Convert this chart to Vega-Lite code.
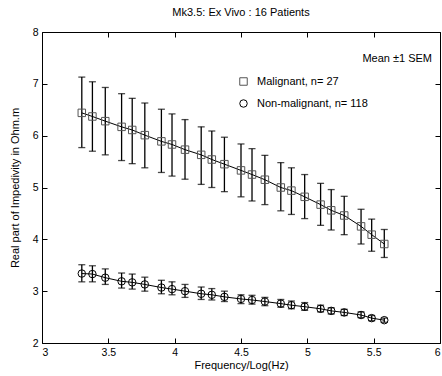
{
  "$schema": "https://vega.github.io/schema/vega-lite/v6.json",
  "width": 398,
  "height": 311,
  "autosize": {"type": "none"},
  "padding": {"left": 42, "top": 32, "right": 2, "bottom": 33},
  "background": "white",
  "title": {"text": "Mk3.5: Ex Vivo : 16 Patients", "font": "Liberation Sans", "fontSize": 11, "fontWeight": "normal", "color": "black", "offset": 9},
  "config": {
    "view": {"stroke": "black", "strokeWidth": 1},
    "axis": {"grid": false, "domain": false, "tickColor": "black", "tickSize": -5, "labelColor": "black", "labelFont": "Liberation Sans", "labelFontSize": 10.5, "titleFont": "Liberation Sans", "titleFontSize": 11, "titleFontWeight": "normal", "titleColor": "black"}
  },
  "data": {"values": [
    {"series": "Malignant, n= 27", "x": 3.30, "y": 6.44, "lo": 5.77, "hi": 7.13},
    {"series": "Malignant, n= 27", "x": 3.38, "y": 6.37, "lo": 5.70, "hi": 7.04},
    {"series": "Malignant, n= 27", "x": 3.477, "y": 6.28, "lo": 5.63, "hi": 6.93},
    {"series": "Malignant, n= 27", "x": 3.60, "y": 6.17, "lo": 5.52, "hi": 6.81},
    {"series": "Malignant, n= 27", "x": 3.68, "y": 6.11, "lo": 5.46, "hi": 6.72},
    {"series": "Malignant, n= 27", "x": 3.775, "y": 6.01, "lo": 5.38, "hi": 6.63},
    {"series": "Malignant, n= 27", "x": 3.90, "y": 5.89, "lo": 5.29, "hi": 6.51},
    {"series": "Malignant, n= 27", "x": 3.98, "y": 5.83, "lo": 5.22, "hi": 6.42},
    {"series": "Malignant, n= 27", "x": 4.078, "y": 5.73, "lo": 5.16, "hi": 6.31},
    {"series": "Malignant, n= 27", "x": 4.20, "y": 5.63, "lo": 5.06, "hi": 6.17},
    {"series": "Malignant, n= 27", "x": 4.28, "y": 5.54, "lo": 5.00, "hi": 6.09},
    {"series": "Malignant, n= 27", "x": 4.375, "y": 5.45, "lo": 4.92, "hi": 5.97},
    {"series": "Malignant, n= 27", "x": 4.50, "y": 5.33, "lo": 4.82, "hi": 5.84},
    {"series": "Malignant, n= 27", "x": 4.583, "y": 5.25, "lo": 4.74, "hi": 5.75},
    {"series": "Malignant, n= 27", "x": 4.68, "y": 5.15, "lo": 4.67, "hi": 5.62},
    {"series": "Malignant, n= 27", "x": 4.80, "y": 5.00, "lo": 4.55, "hi": 5.48},
    {"series": "Malignant, n= 27", "x": 4.88, "y": 4.94, "lo": 4.48, "hi": 5.38},
    {"series": "Malignant, n= 27", "x": 4.98, "y": 4.82, "lo": 4.40, "hi": 5.25},
    {"series": "Malignant, n= 27", "x": 5.10, "y": 4.67, "lo": 4.27, "hi": 5.08},
    {"series": "Malignant, n= 27", "x": 5.18, "y": 4.56, "lo": 4.18, "hi": 4.96},
    {"series": "Malignant, n= 27", "x": 5.278, "y": 4.46, "lo": 4.09, "hi": 4.83},
    {"series": "Malignant, n= 27", "x": 5.405, "y": 4.25, "lo": 3.91, "hi": 4.58},
    {"series": "Malignant, n= 27", "x": 5.485, "y": 4.09, "lo": 3.77, "hi": 4.39},
    {"series": "Malignant, n= 27", "x": 5.58, "y": 3.91, "lo": 3.65, "hi": 4.19},
    {"series": "Non-malignant, n= 118", "x": 3.30, "y": 3.34, "lo": 3.18, "hi": 3.51},
    {"series": "Non-malignant, n= 118", "x": 3.38, "y": 3.33, "lo": 3.18, "hi": 3.49},
    {"series": "Non-malignant, n= 118", "x": 3.477, "y": 3.26, "lo": 3.13, "hi": 3.43},
    {"series": "Non-malignant, n= 118", "x": 3.60, "y": 3.19, "lo": 3.06, "hi": 3.35},
    {"series": "Non-malignant, n= 118", "x": 3.68, "y": 3.17, "lo": 3.04, "hi": 3.33},
    {"series": "Non-malignant, n= 118", "x": 3.775, "y": 3.13, "lo": 3.00, "hi": 3.27},
    {"series": "Non-malignant, n= 118", "x": 3.90, "y": 3.07, "lo": 2.95, "hi": 3.21},
    {"series": "Non-malignant, n= 118", "x": 3.98, "y": 3.04, "lo": 2.93, "hi": 3.18},
    {"series": "Non-malignant, n= 118", "x": 4.078, "y": 3.00, "lo": 2.88, "hi": 3.13},
    {"series": "Non-malignant, n= 118", "x": 4.20, "y": 2.95, "lo": 2.84, "hi": 3.08},
    {"series": "Non-malignant, n= 118", "x": 4.28, "y": 2.93, "lo": 2.83, "hi": 3.05},
    {"series": "Non-malignant, n= 118", "x": 4.375, "y": 2.89, "lo": 2.80, "hi": 3.00},
    {"series": "Non-malignant, n= 118", "x": 4.50, "y": 2.85, "lo": 2.76, "hi": 2.93},
    {"series": "Non-malignant, n= 118", "x": 4.583, "y": 2.83, "lo": 2.75, "hi": 2.92},
    {"series": "Non-malignant, n= 118", "x": 4.68, "y": 2.80, "lo": 2.72, "hi": 2.88},
    {"series": "Non-malignant, n= 118", "x": 4.80, "y": 2.76, "lo": 2.69, "hi": 2.84},
    {"series": "Non-malignant, n= 118", "x": 4.88, "y": 2.73, "lo": 2.66, "hi": 2.81},
    {"series": "Non-malignant, n= 118", "x": 4.98, "y": 2.70, "lo": 2.63, "hi": 2.78},
    {"series": "Non-malignant, n= 118", "x": 5.10, "y": 2.66, "lo": 2.60, "hi": 2.73},
    {"series": "Non-malignant, n= 118", "x": 5.18, "y": 2.62, "lo": 2.56, "hi": 2.68},
    {"series": "Non-malignant, n= 118", "x": 5.278, "y": 2.59, "lo": 2.53, "hi": 2.65},
    {"series": "Non-malignant, n= 118", "x": 5.405, "y": 2.54, "lo": 2.49, "hi": 2.60},
    {"series": "Non-malignant, n= 118", "x": 5.485, "y": 2.48, "lo": 2.43, "hi": 2.53},
    {"series": "Non-malignant, n= 118", "x": 5.58, "y": 2.44, "lo": 2.40, "hi": 2.48}
  ]},
  "resolve": {"axis": {"x": "independent", "y": "independent"}},
  "layer": [
    {
      "mark": {"type": "rule", "color": "black", "strokeWidth": 1.3},
      "encoding": {
        "x": {"field": "x", "type": "quantitative", "scale": {"domain": [3, 6], "nice": false, "zero": false}, "axis": {"values": [3, 3.5, 4, 4.5, 5, 5.5, 6], "format": "~g", "title": "Frequency/Log(Hz)", "labelPadding": 9, "titlePadding": 2}},
        "y": {"field": "lo", "type": "quantitative", "scale": {"domain": [2, 8], "nice": false, "zero": false}, "axis": {"values": [2, 3, 4, 5, 6, 7, 8], "title": "Real part of Impedivity in Ohm.m", "labelPadding": 9, "titlePadding": 12}},
        "y2": {"field": "hi"}
      }
    },
    {
      "mark": {"type": "tick", "color": "black", "thickness": 1.3, "size": 7, "orient": "horizontal"},
      "encoding": {
        "x": {"field": "x", "type": "quantitative", "axis": {"orient": "top", "values": [3, 3.5, 4, 4.5, 5, 5.5, 6], "labels": false, "title": null}},
        "y": {"field": "lo", "type": "quantitative", "axis": {"orient": "right", "values": [2, 3, 4, 5, 6, 7, 8], "labels": false, "title": null}}
      }
    },
    {
      "mark": {"type": "tick", "color": "black", "thickness": 1.3, "size": 7, "orient": "horizontal"},
      "encoding": {
        "x": {"field": "x", "type": "quantitative", "axis": null},
        "y": {"field": "hi", "type": "quantitative", "axis": null}
      }
    },
    {
      "mark": {"type": "line", "color": "black", "strokeWidth": 1},
      "encoding": {
        "x": {"field": "x", "type": "quantitative", "axis": null},
        "y": {"field": "y", "type": "quantitative", "axis": null},
        "detail": {"field": "series"}
      }
    },
    {
      "mark": {"type": "point", "filled": false, "strokeWidth": 1, "opacity": 1, "size": 56},
      "encoding": {
        "x": {"field": "x", "type": "quantitative", "axis": null},
        "y": {"field": "y", "type": "quantitative", "axis": null},
        "shape": {"field": "series", "type": "nominal", "scale": {"domain": ["Malignant, n= 27", "Non-malignant, n= 118"], "range": ["square", "circle"]}, "legend": {"orient": "none", "legendX": 196, "legendY": 44, "title": null, "labelFont": "Liberation Sans", "labelFontSize": 11, "labelColor": "black", "rowPadding": 9, "symbolStrokeWidth": 1, "labelOffset": 8, "symbolSize": 56}},
        "color": {"field": "series", "type": "nominal", "scale": {"domain": ["Malignant, n= 27", "Non-malignant, n= 118"], "range": ["#555555", "black"]}, "legend": {"orient": "none", "legendX": 196, "legendY": 44, "title": null, "labelFont": "Liberation Sans", "labelFontSize": 11, "labelColor": "black", "rowPadding": 9, "symbolStrokeWidth": 1, "labelOffset": 8, "symbolSize": 56}}
      }
    },
    {
      "data": {"values": [{"label": "Mean ±1 SEM", "x": 5.94, "y": 7.48}]},
      "mark": {"type": "text", "align": "right", "baseline": "middle", "font": "Liberation Sans", "fontSize": 11, "color": "black"},
      "encoding": {
        "x": {"field": "x", "type": "quantitative", "axis": null},
        "y": {"field": "y", "type": "quantitative", "axis": null},
        "text": {"field": "label"}
      }
    }
  ]
}
